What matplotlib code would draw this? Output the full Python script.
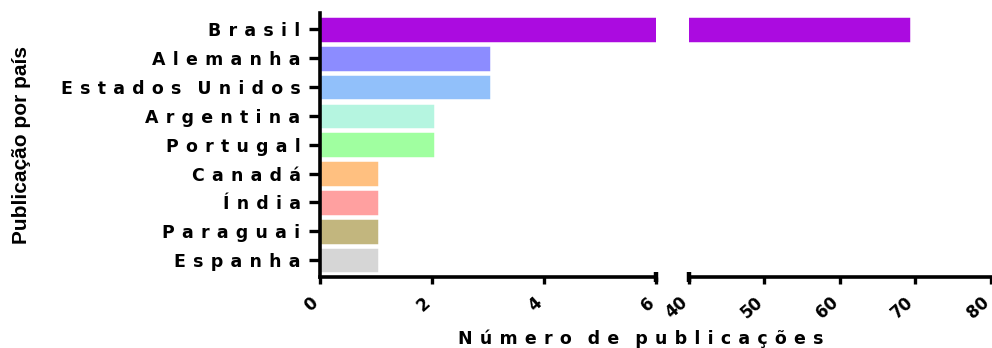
import matplotlib.pyplot as plt
import matplotlib.transforms as mtransforms
import numpy as np
from matplotlib import font_manager

paises = ['Brasil', 'Alemanha', 'Estados Unidos', 'Argentina', 'Portugal',
          'Canadá', 'Índia', 'Paraguai', 'Espanha']
publicacoes = [69, 3, 3, 2, 2, 1, 1, 1, 1]
cores = ['#AB0BE0', '#8C8CFF', '#91C0FA', '#B5F5E0', '#A0FFA0',
         '#FFC080', '#FFA0A0', '#C2B67E', '#D6D6D6']
ticks_esq = [0, 2, 4, 6]
ticks_dir = [40, 50, 60, 70, 80]

# fonte estreita para o rótulo vertical, se existir
nomes = {f.name for f in font_manager.fontManager.ttflist}
fonte_y = 'Liberation Sans Narrow' if 'Liberation Sans Narrow' in nomes else 'Liberation Sans'


def espacado(texto):
    # imita o espaçamento largo entre letras do original
    palavras = ['\u2005\u2006'.join(p) for p in texto.split(' ')]
    return '\u2002\u2005\u2006'.join(palavras)


fig = plt.figure(figsize=(9.92, 3.48), dpi=100)
ax1 = fig.add_axes([0.3226, 0.205, 0.3387, 0.7576])
ax2 = fig.add_axes([0.6946, 0.205, 0.3041, 0.7576])

y = np.arange(len(paises))
for ax in (ax1, ax2):
    ax.barh(y, publicacoes, height=0.72, color=cores, edgecolor=cores,
            linewidth=2.5)
    ax.set_ylim(8.58, -0.57)
    ax.spines['top'].set_visible(False)
    ax.spines['right'].set_visible(False)
    ax.spines['bottom'].set_linewidth(2.6)
    ax.tick_params(axis='x', direction='out', length=5, width=2.4, pad=12)

ax1.set_xlim(0, 6)
ax2.set_xlim(40, 80)
ax1.set_xticks(ticks_esq)
ax2.set_xticks(ticks_dir)

ax1.spines['left'].set_linewidth(2.6)
ax1.set_yticks(y)
ax1.set_yticklabels([espacado(p) for p in paises], fontfamily='DejaVu Sans',
                    fontweight='bold', fontsize=12.5)
ax1.tick_params(axis='y', direction='out', length=8, width=2.4, pad=6)

ax2.spines['left'].set_visible(False)
ax2.set_yticks([])

desloca = mtransforms.ScaledTranslation(-3 / 72, 0, fig.dpi_scale_trans)
for ax in (ax1, ax2):
    for rot in ax.get_xticklabels():
        rot.set_rotation(42)
        rot.set_ha('right')
        rot.set_va('center')
        rot.set_rotation_mode('anchor')
        rot.set_fontfamily('DejaVu Sans')
        rot.set_fontweight('bold')
        rot.set_fontsize(12)
        rot.set_transform(rot.get_transform() + desloca)

# marcas da quebra do eixo
ax1.plot([1], [0], marker=[(0, -1), (0, 1)], markersize=7, mew=3.2,
         color='black', transform=ax1.transAxes, clip_on=False)
ax2.plot([0], [0], marker=[(0, -1), (0, 1)], markersize=7, mew=3.2,
         color='black', transform=ax2.transAxes, clip_on=False)

fig.text(0.022, 0.583, 'Publicação por país', rotation=90, ha='center',
         va='center', fontfamily=fonte_y, fontweight='bold', fontsize=15)
fig.text(0.646, 0.012, espacado('Número de publicações'), ha='center',
         va='baseline', fontfamily='DejaVu Sans', fontweight='bold', fontsize=12.5)

fig.savefig('out.png', dpi=100)
